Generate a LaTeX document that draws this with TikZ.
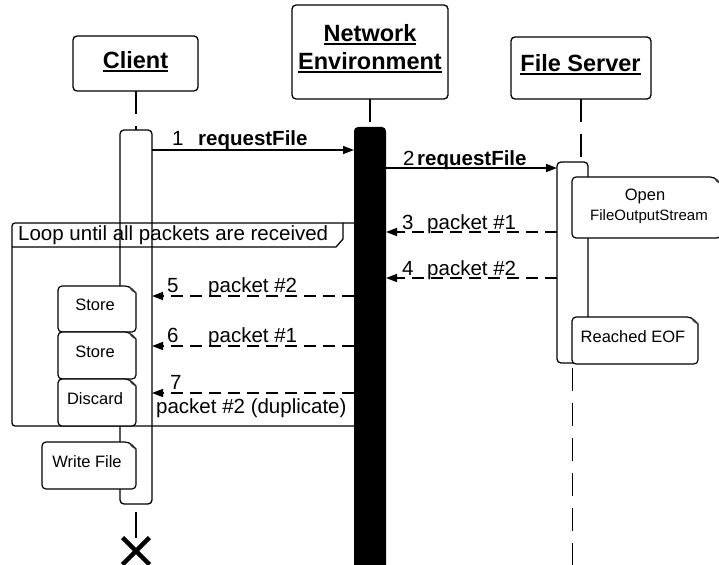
\documentclass[tikz,border=0pt]{standalone}
\usepackage{fontspec}
\setmainfont{Liberation Sans}
\usetikzlibrary{arrows.meta,shapes.misc,calc}
\newcommand\hul[1]{\leavevmode\setbox0=\hbox{#1}\rlap{\rule[-3.2pt]{\wd0}{1.8pt}}\box0}
\newcommand\noteshape[4]{%
  \draw[noteline] (#1,#4) -- (#1,#2) -- (#3-7,#2) [sharp corners] -- (#3,#2+7) [rounded corners=4pt] -- (#3,#4) -- cycle;
  \fill[black!75] (#3-7,#2) .. controls (#3-6,#2+4) and (#3-4,#2+6) .. (#3,#2+7) .. controls (#3-3,#2+4) and (#3-5,#2+2) .. cycle;}
\newcommand\mynote[6]{%
  \noteshape{#2}{#3}{#4}{#5}
  \node[notetext] (#1) at ({(#2+#4)/2-2},{(#3+#5)/2+1.5}) {#6};}
\begin{document}
\begin{tikzpicture}[x=1pt,y=-1pt,line join=round,
  hdr/.style={draw,line width=1.3pt,rounded corners=4pt,fill=white,inner sep=0,outer sep=0,anchor=north west},
  hdrtext/.style={font=\fontsize{23.5}{27}\selectfont\bfseries,inner sep=0,anchor=base},
  act/.style={draw,line width=1.3pt,rounded corners=4pt,fill=white,inner sep=0,outer sep=0,anchor=north west},
  life/.style={line width=1.6pt,dash pattern=on 23pt off 12pt},
  frameline/.style={line width=1.3pt},
  noteline/.style={line width=1.2pt,fill=white,rounded corners=4pt},
  notetext/.style={font=\fontsize{16.5}{19}\selectfont,inner sep=0,anchor=base},
  msg/.style={line width=1.4pt,-{Triangle[length=11pt,width=8pt]}},
  ret/.style={msg,dash pattern=on 12pt off 7pt},
  lbl/.style={font=\fontsize{20.5}{24}\selectfont,inner sep=0,anchor=base west}]
\useasboundingbox (0,0) rectangle (719,564);
\fill[white] (0,0) rectangle (719,564);
% headers
\node[hdr,minimum width=125,minimum height=55] (cl) at (73,36) {};
\node[hdrtext] (cltext) at (135.5,69) {\hul{Client}};
\node[hdr,minimum width=156,minimum height=94] (net) at (292,5) {};
\node[hdrtext] (net1) at (370,42) {\hul{Network}};
\node[hdrtext] (net2) at (370,70) {\hul{Environment}};
\node[hdr,minimum width=140,minimum height=62] (fs) at (511,37) {};
\node[hdrtext] (fstext) at (580.5,72) {\hul{File Server}};
% coordinates
\coordinate (bottom) at (0,575);
\coordinate (ca0) at (136,130);
\coordinate (y1) at (0,150);
\coordinate (y2) at (0,168);
\coordinate (y3) at (0,232);
\coordinate (y4) at (0,278);
\coordinate (y5) at (0,296);
\coordinate (y6) at (0,346);
\coordinate (y7) at (0,393);
% lifelines
\draw[life] (ca0 |- cl.south) -- (ca0);
\draw[life] (net.south) -- (370,127);
\draw[life] (fs.south) -- (fs.south |- 0,162);
\draw[life] (572.5,368) -- (572.5,575);
% activations
\node[act,minimum width=32,minimum height=374] (ca) at (120,130) {};
\node[act,minimum width=31,minimum height=201] (fa) at (557,162) {};
% loop frame
\draw[frameline,rounded corners=3pt] (12,223) rectangle (372,426);
\draw[frameline] (12,247) -- (336,247) -- (343,239) -- (343,223);
\node[lbl] (looplbl) at (18,240) {Loop until all packets are received};
% network bar
\node[fill=black,rounded corners=4pt,minimum width=32,minimum height=460,inner sep=0,outer sep=0,anchor=north west] (bar) at (354,127) {};
% notes
\mynote{n1}{58}{286}{136}{332}{Store}
\mynote{n2}{58}{332}{136}{379}{Store}
\mynote{n3}{58}{379}{136}{426}{Discard}
\mynote{n4}{42}{442}{136}{489}{Write File}
\noteshape{572}{177}{721}{238}
\node[notetext] (o1) at (645,200) {Open};
\node[notetext,font=\fontsize{15}{18}\selectfont] (o2) at (649,220) {FileOutputStream};
\mynote{n6}{572}{317}{698}{364}{Reached EOF}
% messages
\draw[msg] (ca.east |- y1) -- (bar.west |- y1);
\draw[msg] (bar.east |- y2) -- (fa.west |- y2);
\draw[ret] (fa.west |- y3) -- (bar.east |- y3);
\draw[ret] (fa.west |- y4) -- (bar.east |- y4);
\draw[ret] (bar.west |- y5) -- (ca.east |- y5);
\draw[ret] (bar.west |- y6) -- (ca.east |- y6);
\draw[ret] (bar.west |- y7) -- (ca.east |- y7);
% labels
\node[lbl] (l1n) at (172,146) {1};
\node[lbl] (l1t) at (198,146) {\bfseries requestFile};
\node[lbl] (l2n) at (403,165) {2};
\node[lbl] (l2t) at (417,165) {\bfseries requestFile};
\node[lbl] (l3n) at (402,229) {3};
\node[lbl] (l3t) at (427,229) {packet \#1};
\node[lbl] (l4n) at (402,275) {4};
\node[lbl] (l4t) at (427,275) {packet \#2};
\node[lbl] (l5n) at (167,292) {5};
\node[lbl] (l5t) at (208,292) {packet \#2};
\node[lbl] (l6n) at (167,342) {6};
\node[lbl] (l6t) at (208,342) {packet \#1};
\node[lbl] (l7n) at (170,389) {7};
\node[lbl] (l7t) at (156,413) {packet \#2 (duplicate)};
% destruction
\node[cross out,draw,line width=4.5pt,minimum size=27,inner sep=0,outer sep=0] (xend) at (136,551) {};
\draw[line width=1.6pt] ([yshift=-8pt]ca.south) -- (xend.north);
\end{tikzpicture}
\end{document}
